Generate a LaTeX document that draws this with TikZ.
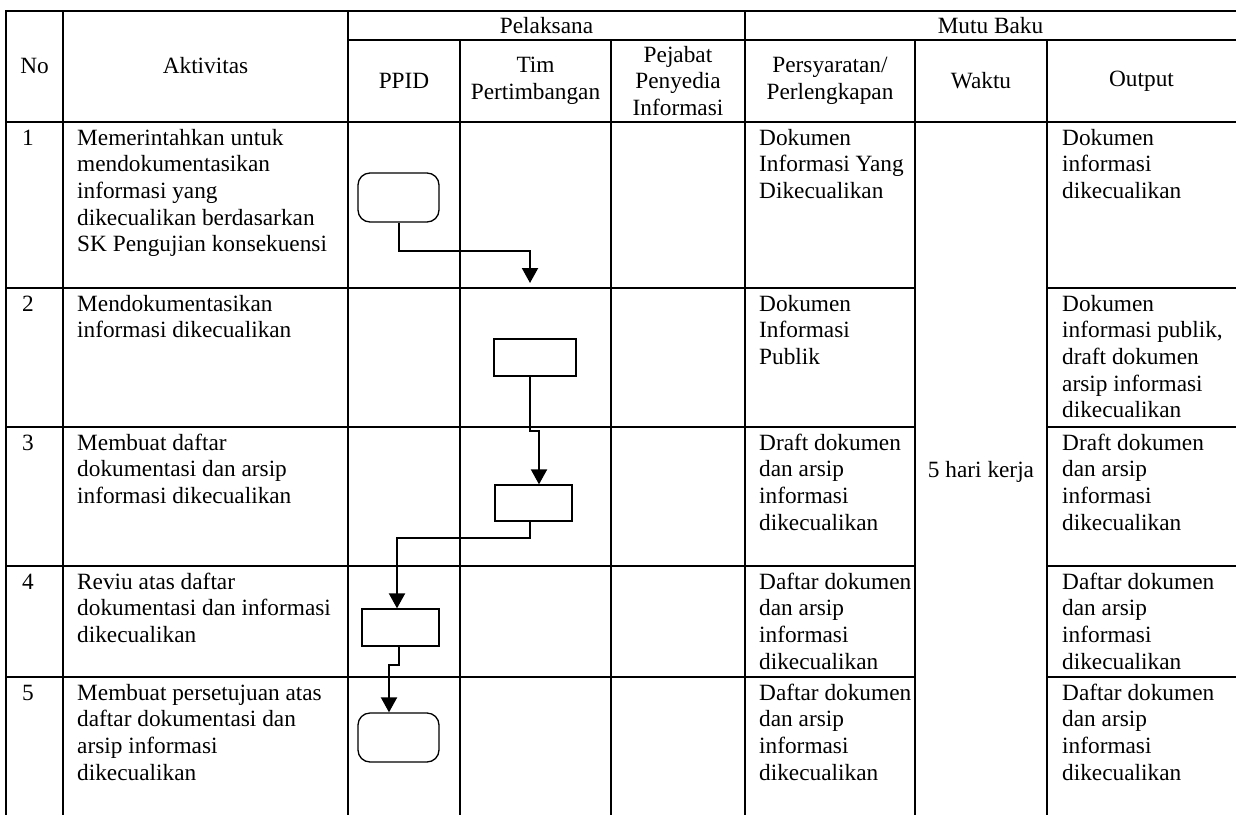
\documentclass[tikz,border=0pt]{standalone}
\usepackage{fontspec}
\setmainfont{Liberation Serif}
\usepackage{tikz}
\usetikzlibrary{arrows.meta}
\newcommand{\cellfont}{\fontsize{23.3}{26.7}\selectfont}
\tikzset{
  tbl/.style={line width=1.8pt, line cap=rect},
  head/.style={align=center, inner sep=0pt, font=\cellfont},
  cell/.style={anchor=north west, align=left, inner sep=0pt, font=\cellfont},
  actbox/.style={draw, line width=1.3pt, minimum width=81pt, minimum height=37pt, inner sep=0pt},
  termbox/.style={draw, line width=1.3pt, rounded corners=12pt, minimum width=81pt, minimum height=49pt, inner sep=0pt},
  flow/.style={line width=2pt, -{Triangle[width=16pt,length=15pt]}}
}

\begin{document}
\begin{tikzpicture}[x=1pt,y=-1pt]
		%%%%% START %%%%%
		\useasboundingbox (0,0) rectangle (1236,814);
		
		% grid
		\draw[tbl] (6,11) -- (1236,11);
		\draw[tbl] (348,40) -- (1236,40);
		\draw[tbl] (6,122) -- (1236,122);
		\foreach \y in {288,427,566,677} {
			\draw[tbl] (6,\y) -- (915,\y);
			\draw[tbl] (1047,\y) -- (1236,\y);
		}
		\foreach \x in {6,63,348,745}
			\draw[tbl] (\x,11) -- (\x,814);
		\foreach \x in {460,611,915,1047}
			\draw[tbl] (\x,40) -- (\x,814);
		
		% header
		\node[head] (hNo) at (34.5,66) {No};
		\node[head] (hAkt) at (205.5,66) {Aktivitas};
		\node[head] (hPel) at (546.5,25.5) {Pelaksana};
		\node[head] (hMutu) at (990.5,25.5) {Mutu Baku};
		\node[head] (hPpid) at (404,81) {PPID};
		\node[head] (hTim) at (535.5,81) {Tim\\Pertimbangan};
		\node[head] (hPej) at (678,81) {Pejabat\\Penyedia\\Informasi};
		\node[head] (hSyarat) at (830,81) {Persyaratan/\\Perlengkapan};
		\node[head] (hWaktu) at (981,81) {Waktu};
		\node[head] (hOut) at (1141.5,81) {Output};
		
		% row 1
		\node[cell] (no1) at (22,126.3) {\strut 1};
		\node[cell] (akt1) at (77,126.3) {\strut Memerintahkan untuk\\mendokumentasikan\\informasi yang\\dikecualikan berdasarkan\\SK Pengujian konsekuensi};
		\node[cell] (sy1) at (759,126.3) {\strut Dokumen\\Informasi Yang\\Dikecualikan};
		\node[cell] (out1) at (1062,126.3) {\strut Dokumen\\informasi\\dikecualikan};
		
		% row 2
		\node[cell] (no2) at (22,292.3) {\strut 2};
		\node[cell] (akt2) at (77,292.3) {\strut Mendokumentasikan\\informasi dikecualikan};
		\node[cell] (sy2) at (759,292.3) {\strut Dokumen\\Informasi\\Publik};
		\node[cell] (out2) at (1062,292.3) {\strut Dokumen\\informasi publik,\\draft dokumen\\arsip informasi\\dikecualikan};
		
		% row 3
		\node[cell] (no3) at (22,431.3) {\strut 3};
		\node[cell] (akt3) at (77,431.3) {\strut Membuat daftar\\dokumentasi dan arsip\\informasi dikecualikan};
		\node[cell] (sy3) at (759,431.3) {\strut Draft dokumen\\dan arsip\\informasi\\dikecualikan};
		\node[cell] (out3) at (1062,431.3) {\strut Draft dokumen\\dan arsip\\informasi\\dikecualikan};
		
		% row 4
		\node[cell] (no4) at (22,570.3) {\strut 4};
		\node[cell] (akt4) at (77,570.3) {\strut Reviu atas daftar\\dokumentasi dan informasi\\dikecualikan};
		\node[cell] (sy4) at (759,570.3) {\strut Daftar dokumen\\dan arsip\\informasi\\dikecualikan};
		\node[cell] (out4) at (1062,570.3) {\strut Daftar dokumen\\dan arsip\\informasi\\dikecualikan};
		
		% row 5
		\node[cell] (no5) at (22,681.3) {\strut 5};
		\node[cell] (akt5) at (77,681.3) {\strut Membuat persetujuan atas\\daftar dokumentasi dan\\arsip informasi\\dikecualikan};
		\node[cell] (sy5) at (759,681.3) {\strut Daftar dokumen\\dan arsip\\informasi\\dikecualikan};
		\node[cell] (out5) at (1062,681.3) {\strut Daftar dokumen\\dan arsip\\informasi\\dikecualikan};
		
		\node[head] (waktu) at (981,472) {5 hari kerja};
		
		% flow
		\node[termbox] (mulai) at (398.5,197.5) {};
		\node[actbox, minimum width=82pt] (timA) at (535,357.5) {};
		\node[actbox, minimum width=77pt, minimum height=36pt] (timB) at (533.5,503) {};
		\node[actbox, minimum width=77pt] (ppidC) at (400.5,627.5) {};
		\node[termbox] (selesai) at (398.5,737.5) {};
		\coordinate (ujung1) at (530,283);
		
		\draw[flow] (mulai.south) -- ++(0,28) -| (ujung1);
		\draw[flow] ([xshift=-5pt]timA.south) -- ++(0,54) -| ([xshift=5.5pt]timB.north);
		\draw[flow] ([xshift=-3.5pt]timB.south) -- ++(0,16) -| ([xshift=-3.5pt]ppidC.north);
		\draw[flow] ([xshift=-1.5pt]ppidC.south) -- ++(0,18) -| ([xshift=-9.5pt]selesai.north);
		
		%%%%% END %%%%%
\end{tikzpicture}
\end{document}
